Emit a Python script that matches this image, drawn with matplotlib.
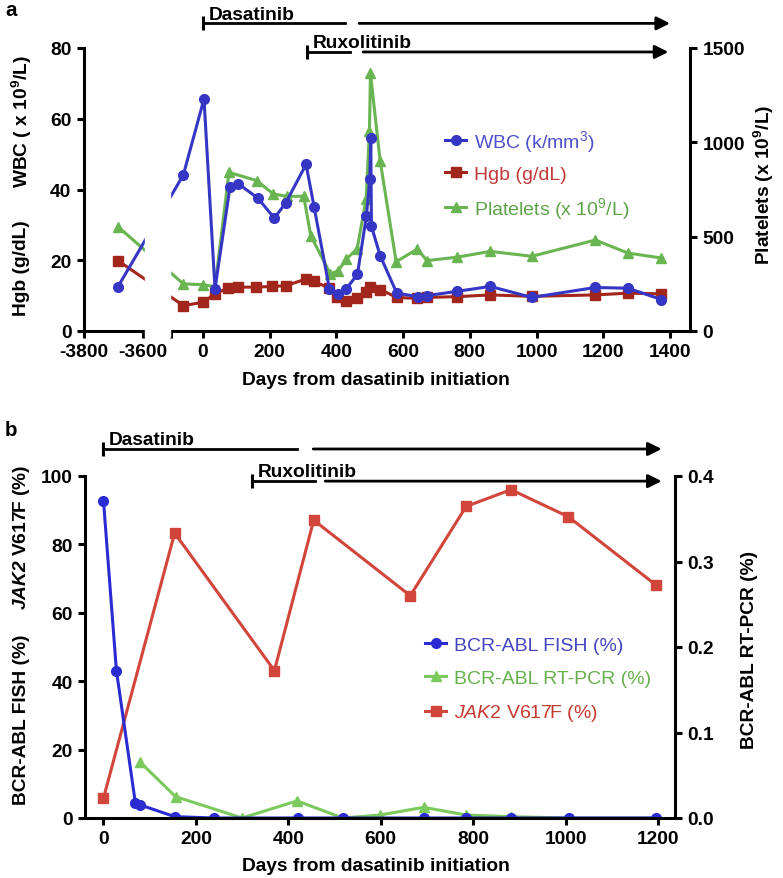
import numpy as np
import matplotlib.pyplot as plt

plt.rcParams['font.family'] = 'Liberation Sans'
plt.rcParams['mathtext.fontset'] = 'custom'
plt.rcParams['mathtext.rm'] = 'Liberation Sans'
plt.rcParams['mathtext.it'] = 'Liberation Sans:italic'
plt.rcParams['mathtext.bf'] = 'Liberation Sans:bold'
plt.rcParams['mathtext.bfit'] = 'Liberation Sans:bold:italic'

# %% data, panel a
wbc_days = [-3685, -59, 3, 36, 81, 106, 164, 214, 248, 309, 333, 379, 406, 429,
            463, 490, 500, 503, 505, 531, 581, 645, 671, 761, 861, 986, 1176, 1274, 1374]
wbc = [12.5, 44.1, 65.6, 11.9, 40.8, 41.6, 37.6, 31.9, 36.2, 47.1, 35.1, 11.9, 10.5, 11.9,
       16.0, 32.6, 43.0, 54.5, 29.6, 21.3, 10.7, 9.7, 10.0, 11.2, 12.6, 9.5, 12.3, 12.1, 8.9]

hgb_days = [-3685, -59, 1, 35, 75, 105, 160, 208, 248, 309, 333, 379, 403, 429,
            463, 489, 501, 531, 581, 643, 671, 761, 861, 986, 1176, 1274, 1374]
hgb = [19.9, 7.2, 8.1, 10.5, 12.1, 12.4, 12.4, 12.6, 12.8, 14.7, 14.0, 12.1, 9.5, 8.6,
       9.2, 10.9, 12.3, 11.7, 9.5, 9.2, 9.5, 9.7, 10.2, 9.8, 10.2, 10.7, 10.5]

plt_days = [-3685, -59, 1, 36, 78, 161, 211, 251, 302, 323, 382, 405, 430, 462,
            489, 499, 502, 531, 579, 643, 671, 761, 861, 986, 1176, 1274, 1374]
platelets = [553, 250, 245, 235, 841, 797, 726, 714, 714, 505, 302, 319, 382, 435,
             700, 1060, 1365, 903, 367, 435, 373, 391, 422, 396, 482, 413, 387]

# treatment periods: start, pause, resume, end (days)
dasa_a = [0, 425, 468, 1400]
ruxo_a = [311, 440, 480, 1395]

# %% data, panel b
fish_days = [0, 28, 69, 80, 154, 239, 420, 518, 693, 785, 882, 1008, 1196]
fish = [92.8, 43.1, 4.4, 3.8, 0.4, 0, 0, 0, 0, 0, 0, 0, 0]

pcr_days = [80, 156, 300, 419, 518, 599, 693, 785, 882, 1008, 1196]
pcr = [0.065, 0.025, 0.0, 0.020, 0.0, 0.0035, 0.0125, 0.0035, 0.0015, 0.0, 0.0]

jak_days = [0, 154, 370, 455, 664, 785, 882, 1006, 1196]
jak2 = [5.8, 83.3, 43.1, 87.1, 65.0, 91.1, 96.0, 88.1, 68.1]

dasa_b = [0, 419, 454, 1208]
ruxo_b = [322, 458, 480, 1208]

# %% styling
W, H = 783, 879
FS = 13.8
LFS = 14
LW = 2.2
BLUE_A, BLUE_A_T = '#3636c4', '#4f4fcc'
RED_A, RED_A_T = '#a3261c', '#c23a3a'
GREEN_A, GREEN_A_T = '#69b551', '#5ea349'
BLUE_B, BLUE_B_T = '#2b2bd2', '#4545c0'
GREEN_B, GREEN_B_T = '#7cc95e', '#66b04d'
RED_B, RED_B_T = '#d2453b', '#c4392f'


def fig_box(x0, y0, x1, y1):
    return [x0 / W, 1 - y1 / H, (x1 - x0) / W, (y1 - y0) / H]


# broken x axis for panel a: days -> pixel-like coordinate
brk_days = [-1e5, -3600, -95, 1e5]
brk_u = [59 + (-1e5 + 3600) * 59 / 200, 59, 87.3, 87.3 + (1e5 + 95) * 0.3336]


def fwd(x):
    return np.interp(x, brk_days, brk_u)


def inv(u):
    return np.interp(u, brk_u, brk_days)


def style_axes(ax, ax2):
    ax.set_zorder(2)
    ax.patch.set_visible(False)
    for s in ['top', 'right']:
        ax.spines[s].set_visible(False)
    for s in ['top', 'left', 'bottom']:
        ax2.spines[s].set_visible(False)
    for s in ['left', 'bottom']:
        ax.spines[s].set_linewidth(LW)
    ax2.spines['right'].set_linewidth(LW)
    for a in (ax, ax2):
        a.tick_params(width=LW, length=5, pad=4, labelsize=FS)
        for t in a.get_xticklabels() + a.get_yticklabels():
            t.set_fontweight('bold')


def treatment(ax, name, period, y):
    start, pause, resume, end = period
    tr = ax.get_xaxis_transform()
    ax.plot([start, pause], [y, y], color='k', lw=2, transform=tr, clip_on=False)
    ax.plot([start], [y], marker='|', ms=10, mew=2.2, color='k', transform=tr, clip_on=False)
    ax.annotate('', xy=(end, y), xytext=(resume, y), xycoords=tr, textcoords=tr,
                arrowprops=dict(arrowstyle='-|>', color='k', lw=2, mutation_scale=20,
                                shrinkA=0, shrinkB=0))
    ax.annotate(name, xy=(start, y), xycoords=tr, xytext=(4, 3.5), textcoords='offset points',
                fontsize=FS, fontweight='bold', ha='left', va='baseline')


fig = plt.figure(figsize=(W / 100, H / 100), dpi=100)

# %% panel a
ax = fig.add_axes(fig_box(84, 49, 690, 332))
ax.set_xscale('function', functions=(fwd, inv))
ax2 = ax.twinx()

l_hgb, = ax.plot(hgb_days, hgb, color=RED_A, marker='s', ms=6.5, lw=LW)
l_wbc, = ax.plot(wbc_days, wbc, color=BLUE_A, marker='o', ms=7, lw=LW)
l_plt, = ax2.plot(plt_days, platelets, color=GREEN_A, marker='^', ms=7.5, lw=LW)

ax.set_ylim(0, 80)
ax2.set_ylim(0, 1500)
ax.set_yticks([0, 20, 40, 60, 80])
ax2.set_yticks([0, 500, 1000, 1500])
xt = [-3800, -3600, -95] + list(range(0, 1401, 200))
ax.set_xticks(xt, ['-3800', '-3600', ''] + [str(v) for v in range(0, 1401, 200)])
ax.set_xlim(-3800, inv(606))
style_axes(ax, ax2)

# hide the break between the two x segments
g0, g1 = inv(60.5), inv(86)
ax.add_patch(plt.Rectangle((g0, -0.02), g1 - g0, 1.03, transform=ax.get_xaxis_transform(),
                           color='white', zorder=10, clip_on=False))

treatment(ax, 'Dasatinib', dasa_a, 1.087)
treatment(ax, 'Ruxolitinib', ruxo_a, 0.986)

leg = ax.legend([l_wbc, l_hgb, l_plt],
                [r'WBC (k/mm$^{\mathrm{3}}$)', 'Hgb (g/dL)', r'Platelets (x 10$^{\mathrm{9}}$/L)'],
                loc='upper left', bbox_to_anchor=(445 / W, 1 - 129 / H),
                bbox_transform=fig.transFigure, frameon=False, fontsize=LFS,
                handlelength=1.1, handletextpad=0.4, labelspacing=0.6,
                borderpad=0, borderaxespad=0)
for t, c in zip(leg.get_texts(), [BLUE_A_T, RED_A_T, GREEN_A_T]):
    t.set_color(c)

fig.text(22 / W, 1 - 122 / H, r'WBC ( x 10$^{\mathbf{9}}$/L)', rotation=90,
         ha='center', va='center', fontsize=FS, fontweight='bold')
fig.text(22 / W, 1 - 268 / H, 'Hgb (g/dL)', rotation=90,
         ha='center', va='center', fontsize=FS, fontweight='bold')
fig.text(764 / W, 1 - 185 / H, r'Platelets (x 10$^{\mathbf{9}}$/L)', rotation=90,
         ha='center', va='center', fontsize=FS, fontweight='bold')
fig.text(376 / W, 1 - 381 / H, 'Days from dasatinib initiation',
         ha='center', va='center', fontsize=FS, fontweight='bold')
fig.text(5 / W, 1 - 1 / H, 'a', ha='left', va='top', fontsize=FS + 1, fontweight='bold')

# %% panel b
bx = fig.add_axes(fig_box(85, 477, 675, 819))
bx2 = bx.twinx()

l_pcr, = bx2.plot(pcr_days, pcr, color=GREEN_B, marker='^', ms=7.5, lw=LW)
l_jak, = bx.plot(jak_days, jak2, color=RED_B, marker='s', ms=6.5, lw=LW)
l_fish, = bx.plot(fish_days, fish, color=BLUE_B, marker='o', ms=7, lw=LW)

bx.set_ylim(0, 100)
bx2.set_ylim(0, 0.4)
bx.set_xlim(-40, 1237)
bx.set_xticks(range(0, 1201, 200))
bx.set_yticks([0, 20, 40, 60, 80, 100])
bx2.set_yticks([0.0, 0.1, 0.2, 0.3, 0.4], ['0.0', '0.1', '0.2', '0.3', '0.4'])
style_axes(bx, bx2)

treatment(bx, 'Dasatinib', dasa_b, 1.079)
treatment(bx, 'Ruxolitinib', ruxo_b, 0.985)

leg = bx.legend([l_fish, l_pcr, l_jak],
                ['BCR-ABL FISH (%)', 'BCR-ABL RT-PCR (%)', r'$\mathit{JAK2}$ V617F (%)'],
                loc='upper left', bbox_to_anchor=(425 / W, 1 - 637 / H),
                bbox_transform=fig.transFigure, frameon=False, fontsize=LFS,
                handlelength=1.1, handletextpad=0.4, labelspacing=0.8,
                borderpad=0, borderaxespad=0)
for t, c in zip(leg.get_texts(), [BLUE_B_T, GREEN_B_T, RED_B_T]):
    t.set_color(c)

fig.text(22 / W, 1 - 537 / H, r'$\mathbfit{JAK2}$ V617F (%)', rotation=90,
         ha='center', va='center', fontsize=FS, fontweight='bold')
fig.text(22 / W, 1 - 720 / H, 'BCR-ABL FISH (%)', rotation=90,
         ha='center', va='center', fontsize=FS, fontweight='bold')
fig.text(750 / W, 1 - 650 / H, 'BCR-ABL RT-PCR (%)', rotation=90,
         ha='center', va='center', fontsize=FS, fontweight='bold')
fig.text(376 / W, 1 - 867 / H, 'Days from dasatinib initiation',
         ha='center', va='center', fontsize=FS, fontweight='bold')
fig.text(5 / W, 1 - 421 / H, 'b', ha='left', va='top', fontsize=FS + 1, fontweight='bold')

fig.savefig('out.png', dpi=100)
